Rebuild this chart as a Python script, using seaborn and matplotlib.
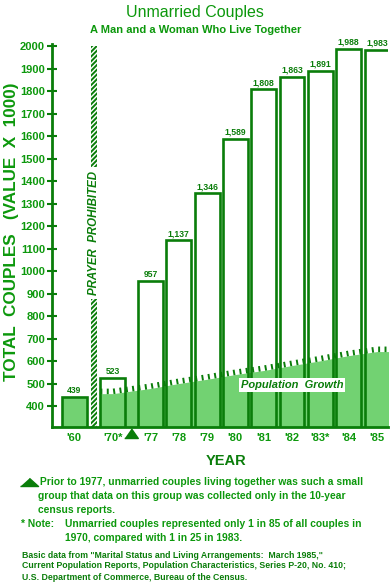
import numpy as np
import matplotlib.pyplot as plt
from matplotlib.lines import Line2D
import seaborn as sns

# values (thousands of couples)
years = ["'60", "'70*", "'77", "'78", "'79", "'80", "'81", "'82", "'83*", "'84", "'85"]
couples = [439, 523, 957, 1137, 1346, 1589, 1808, 1863, 1891, 1988, 1983]
# population growth band, shown from 1970 on
population = [455, 478, 500, 519, 540, 558, 580, 601, 624, 642]
yticks = list(range(400, 2001, 100))

dark = '#0a7d0a'
text_green = '#0c980c'
fill_green = '#72d272'

sns.set_style("white")
plt.rcParams['font.family'] = ['Liberation Sans', 'DejaVu Sans']
plt.rcParams['hatch.linewidth'] = 1.4

fig = plt.figure(figsize=(3.9, 5.85), dpi=100)
ax = fig.add_axes([52/390, 1 - 427.4/585, 336/390, 383.6/585])

# slot positions, with gaps for the prayer bar and the census marker
xpos = np.arange(len(years), dtype=float) - 2.0
xpos[0] -= 0.69
xpos[1] -= 0.33
prayer_x = -2.0
marker_x = -0.69
half = 0.44

# white bars underneath
sns.barplot(x=xpos, y=couples, native_scale=True, width=0.88, color='white',
            saturation=1, linewidth=0, ax=ax, zorder=1)
ax.patches[0].set_facecolor(fill_green)

# population growth band
xs = np.r_[xpos[1] - half, xpos[1:], xpos[-1] + half]
ys = np.r_[population[0], population, population[-1]]
ax.fill_between(xs, 0, ys, color=fill_green, linewidth=0, zorder=2)
ax.plot(xs, ys + 10, color=dark, lw=4, linestyle=(0, (0.35, 0.8)),
        dash_capstyle='butt', zorder=2.5)

# bar outlines on top
sns.barplot(x=xpos, y=couples, native_scale=True, width=0.88, fill=False,
            color=dark, edgecolor=dark, linewidth=1.9, ax=ax, zorder=3)
ax.bar_label(ax.containers[-1], labels=[f'{v:,}' for v in couples],
             fontsize=6.2, weight='bold', color=dark, padding=1.5)

# prayer prohibited bar
ax.bar(prayer_x, 2000 - 305, bottom=305, width=0.21, facecolor='white',
       edgecolor=dark, hatch='///////', linewidth=0, zorder=2)
ax.text(prayer_x, 1170, 'PRAYER  PROHIBITED', rotation=90, ha='center', va='center',
        fontsize=8.3, weight='bold', style='italic', color=dark, zorder=4,
        bbox=dict(facecolor='white', edgecolor='none', pad=3))

ax.text(xpos[7], 495, 'Population  Growth', ha='center', va='center',
        fontsize=8, weight='bold', style='italic', color=dark, zorder=4,
        bbox=dict(facecolor='white', edgecolor='none', pad=1.5))

# census marker below the axis
ax.plot([marker_x], [-0.028], marker=[(-0.7, 0), (0.7, 0), (0, 1)], ms=14,
        color=dark, transform=ax.get_xaxis_transform(), clip_on=False)

ax.set_xlim(-3.48, 8.39)
ax.set_ylim(305, 2010)
ax.set_yticks(yticks)
ax.set_xticks(xpos)
ax.set_xticklabels(years)
ax.set_xlabel('')
ax.set_ylabel('')
ax.tick_params(axis='y', direction='inout', length=7, width=1.5, color=dark,
               labelcolor=text_green, labelsize=8, pad=1.5, left=True)
ax.tick_params(axis='x', length=0, labelcolor=text_green, labelsize=8, pad=4)
for lbl in ax.get_yticklabels() + ax.get_xticklabels():
    lbl.set_fontweight('bold')
for side in ['top', 'right']:
    ax.spines[side].set_visible(False)
for side in ['left', 'bottom']:
    ax.spines[side].set_color(dark)
    ax.spines[side].set_linewidth(2)
    ax.spines[side].set_zorder(5)

# titles and axis names
fig.text(195/390, 1 - 12/585, 'Unmarried Couples', ha='center', va='center',
         fontsize=11.5, color=text_green)
fig.text(196/390, 1 - 30/585, 'A Man and a Woman Who Live Together', ha='center',
         va='center', fontsize=8, weight='bold', color=text_green)
fig.text(12/390, 1 - 232/585, 'TOTAL  COUPLES   (VALUE  X  1000)', rotation=90,
         ha='center', va='center', fontsize=12.3, weight='bold', color=text_green)
fig.text(226/390, 1 - 461/585, 'YEAR', ha='center', va='center',
         fontsize=10.5, weight='bold', color=dark)

# notes
fig.add_artist(Line2D([29/390], [1 - 486/585], marker=[(-1, 0), (1, 0), (0, 0.9)],
                      ms=13, color=dark, transform=fig.transFigure))
note_kw = dict(ha='left', va='center', fontsize=7.4, weight='bold', color=text_green)
fig.text(40/390, 1 - 482/585,
         'Prior to 1977, unmarried couples living together was such a small', **note_kw)
fig.text(38/390, 1 - 496/585,
         'group that data on this group was collected only in the 10-year', **note_kw)
fig.text(38/390, 1 - 510/585, 'census reports.', **note_kw)
fig.text(21/390, 1 - 524/585, '* Note:', **note_kw)
fig.text(65/390, 1 - 524/585,
         'Unmarried couples represented only 1 in 85 of all couples in', **note_kw)
fig.text(65/390, 1 - 538/585, '1970, compared with 1 in 25 in 1983.', **note_kw)
src_kw = dict(ha='left', va='center', fontsize=6.3, weight='bold', color=dark)
fig.text(22/390, 1 - 555/585,
         'Basic data from "Marital Status and Living Arrangements:  March 1985,"', **src_kw)
fig.text(22/390, 1 - 566/585,
         'Current Population Reports, Population Characteristics, Series P-20, No. 410;', **src_kw)
fig.text(22/390, 1 - 577/585,
         'U.S. Department of Commerce, Bureau of the Census.', **src_kw)

fig.savefig('out.png', dpi=100)
